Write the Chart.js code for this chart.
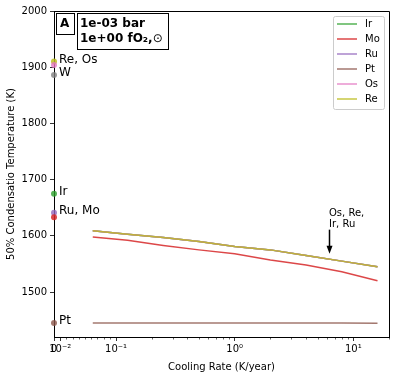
<!DOCTYPE html>
<html>
<head>
<meta charset="utf-8">
<script src="https://cdn.jsdelivr.net/npm/chart.js@4.4.1/dist/chart.umd.min.js"></script>
<style>
  html, body { margin: 0; padding: 0; background: #fff; }
  canvas { display: block; }
</style>
</head>
<body>
<canvas id="chart" width="399" height="379"></canvas>
<script>
// cooling rates (K/year) and 50% condensation temperatures (K)
const rates = [0.0625, 0.125, 0.25, 0.5, 1, 2, 4, 8, 16];
const irTemps = [1609, 1603, 1597, 1590, 1581, 1575, 1565, 1555, 1545];
const moTemps = [1598, 1592, 1583, 1575, 1568, 1557, 1548, 1536, 1520];
const ruTemps = [1609, 1603, 1597, 1590, 1581, 1575, 1565, 1555, 1545];
const ptTemps = [1445, 1445, 1445, 1445, 1445, 1445, 1445, 1444.7, 1444.5];
const osTemps = [1609, 1603, 1597, 1590, 1581, 1575, 1565, 1555, 1545];
const reTemps = [1609, 1603, 1597, 1590, 1581, 1575, 1565, 1555, 1545];

// equilibrium values plotted at rate 0
const eqElements = ['Re', 'Os', 'W', 'Ir', 'Ru', 'Mo', 'Pt'];
const eqTemps = [1910, 1904, 1886, 1675, 1641, 1633, 1445];
const eqLabelText = ['Re, Os', 'W', 'Ir', 'Ru, Mo', 'Pt'];
const eqLabelAnchor = ['Re', 'W', 'Ir', 'Ru', 'Pt'];

const xMajorTicks = [0, 0.01, 0.1, 1, 10];
const xTickLabels = ['0', '10\u207B\u00B2', '10\u207B\u00B9', '10\u2070', '10\u00B9'];
const xMinorTicks = [0.02, 0.03, 0.04, 0.05, 0.06, 0.07, 0.08, 0.09,
  0.2, 0.3, 0.4, 0.5, 0.6, 0.7, 0.8, 0.9, 2, 3, 4, 5, 6, 7, 8, 9, 20];
const yTicks = [1500, 1600, 1700, 1800, 1900, 2000];

const lineNames = ['Ir', 'Mo', 'Ru', 'Pt', 'Os', 'Re'];
const lineTemps = [irTemps, moTemps, ruTemps, ptTemps, osTemps, reTemps];
const colors = {
  Ir: 'rgba(44,160,44,0.8)', Mo: 'rgba(214,39,40,0.85)', Ru: 'rgba(148,103,189,0.8)',
  Pt: 'rgba(140,86,75,0.8)', Os: 'rgba(227,119,194,0.8)', Re: 'rgba(188,189,34,0.85)',
  W: 'rgba(127,127,127,0.8)'
};

const arrowRate = 6.25, arrowFrom = 1611, arrowTo = 1568;

// symlog transform (linthresh 0.1)
const LINTHRESH = 0.1, LINSPAN = 0.523;
function tf(v) { return v <= LINTHRESH ? v / LINTHRESH * LINSPAN : LINSPAN + Math.log10(v / LINTHRESH); }
function itf(t) { return t <= LINSPAN ? t / LINSPAN * LINTHRESH : LINTHRESH * Math.pow(10, t - LINSPAN); }

class SymlogScale extends Chart.Scale {
  static id = 'symlog';
  static defaults = {};
  determineDataLimits() {
    this.min = this.options.min;
    this.max = this.options.max;
  }
  buildTicks() {
    return xMajorTicks.map(v => ({ value: v }));
  }
  configure() {
    super.configure();
    this._tmin = tf(this.min);
    this._trange = tf(this.max) - this._tmin;
  }
  getLabelForValue(v) { return String(v); }
  getPixelForValue(v) { return this.getPixelForDecimal((tf(v) - this._tmin) / this._trange); }
  getValueForPixel(p) { return itf(this._tmin + this.getDecimalForPixel(p) * this._trange); }
}
Chart.register(SymlogScale);

Chart.defaults.font.family = 'DejaVu Sans';
Chart.defaults.font.size = 10;
Chart.defaults.color = '#000';

const datasets = [];
lineNames.forEach((name, i) => {
  datasets.push({
    label: name,
    data: rates.map((r, j) => ({ x: r, y: lineTemps[i][j] })),
    borderColor: colors[name],
    borderWidth: 1.5,
    pointRadius: 0,
    fill: false,
    tension: 0,
    order: 20 - i
  });
});
eqElements.forEach((name, i) => {
  datasets.push({
    label: name + ' eq',
    data: [{ x: 0, y: eqTemps[i] }],
    showLine: false,
    pointRadius: 3,
    pointBorderWidth: 0,
    pointBackgroundColor: colors[name],
    borderColor: colors[name],
    clip: false,
    order: 10 - i
  });
});

function drawBox(ctx, x, y, w, h) {
  ctx.fillStyle = '#fff';
  ctx.fillRect(x, y, w, h);
  ctx.strokeStyle = '#000';
  ctx.lineWidth = 1;
  ctx.strokeRect(x + 0.5, y + 0.5, w, h);
}

const decorations = {
  id: 'decorations',
  afterDraw(chart) {
    const ctx = chart.ctx;
    const xs = chart.scales.x, ys = chart.scales.y;
    const area = chart.chartArea;
    ctx.save();

    // top and right spines
    ctx.strokeStyle = '#000';
    ctx.lineWidth = 1;
    ctx.beginPath();
    ctx.moveTo(area.left, area.top + 0.5);
    ctx.lineTo(area.right + 0.5, area.top + 0.5);
    ctx.lineTo(area.right + 0.5, area.bottom);
    ctx.stroke();

    // minor x ticks
    ctx.lineWidth = 0.6;
    ctx.beginPath();
    xMinorTicks.forEach(v => {
      const px = Math.round(xs.getPixelForValue(v)) + 0.5;
      ctx.moveTo(px, area.bottom);
      ctx.lineTo(px, area.bottom + 2.5);
    });
    ctx.stroke();

    // labels next to the equilibrium points
    ctx.fillStyle = '#000';
    ctx.font = '12px "DejaVu Sans"';
    ctx.textAlign = 'left';
    ctx.textBaseline = 'middle';
    eqLabelText.forEach((txt, i) => {
      const v = eqTemps[eqElements.indexOf(eqLabelAnchor[i])];
      ctx.fillText(txt, xs.getPixelForValue(0) + 5, ys.getPixelForValue(v) - 2);
    });

    // arrow annotation
    ctx.font = '10px "DejaVu Sans"';
    const ax = Math.round(xs.getPixelForValue(arrowRate)) + 0.5;
    const ay0 = ys.getPixelForValue(arrowFrom);
    const ay1 = ys.getPixelForValue(arrowTo);
    ctx.lineWidth = 1.5;
    ctx.beginPath();
    ctx.moveTo(ax, ay0);
    ctx.lineTo(ax, ay1 - 7);
    ctx.stroke();
    ctx.beginPath();
    ctx.moveTo(ax - 3, ay1 - 8);
    ctx.lineTo(ax + 3, ay1 - 8);
    ctx.lineTo(ax, ay1);
    ctx.closePath();
    ctx.fill();
    ctx.textBaseline = 'alphabetic';
    ctx.fillText('Os, Re,', ax - 0.5, ay0 - 14);
    ctx.fillText('Ir, Ru', ax - 0.5, ay0 - 3);

    // panel boxes
    drawBox(ctx, 56, 13, 18, 21);
    drawBox(ctx, 77, 13, 91, 36);
    ctx.fillStyle = '#000';
    ctx.font = 'bold 12px "DejaVu Sans"';
    ctx.textBaseline = 'middle';
    ctx.fillText('A', 60, 24);
    ctx.fillText('1e-03 bar', 80, 24);
    ctx.fillText('1e+00 fO\u2082,', 80, 39);
    const w = ctx.measureText('1e+00 fO\u2082,').width;
    ctx.font = '12px "DejaVu Sans"';
    ctx.fillText('\u2299', 80 + w, 39);

    // legend
    ctx.fillStyle = 'rgba(255,255,255,0.8)';
    ctx.strokeStyle = '#cccccc';
    ctx.lineWidth = 1;
    ctx.beginPath();
    ctx.roundRect(333.5, 16.5, 51, 93, 2);
    ctx.fill();
    ctx.stroke();
    ctx.font = '10px "DejaVu Sans"';
    lineNames.forEach((name, i) => {
      const y = 24 + i * 15;
      ctx.strokeStyle = colors[name];
      ctx.lineWidth = 1.5;
      ctx.beginPath();
      ctx.moveTo(337, y);
      ctx.lineTo(357, y);
      ctx.stroke();
      ctx.fillStyle = '#000';
      ctx.fillText(name, 365, y);
    });
    ctx.restore();
  }
};

new Chart(document.getElementById('chart'), {
  type: 'line',
  data: { datasets },
  options: {
    responsive: false,
    animation: false,
    devicePixelRatio: 1,
    layout: { padding: { top: 11, right: 10, left: 0, bottom: 0 } },
    plugins: { legend: { display: false }, tooltip: { enabled: false } },
    scales: {
      x: {
        type: 'symlog',
        min: 0,
        max: 20,
        afterFit(scale) { scale.height = 42; },
        grid: { drawOnChartArea: false, drawTicks: true, tickLength: 4, tickColor: '#000', tickWidth: 0.8 },
        border: { display: true, color: '#000', width: 1 },
        ticks: {
          autoSkip: false, maxRotation: 0, padding: 2, color: '#000',
          callback: (v, i) => xTickLabels[i]
        },
        title: { display: true, text: 'Cooling Rate (K/year)', padding: { top: 4, bottom: 6 } }
      },
      y: {
        type: 'linear',
        min: 1420,
        max: 2000,
        afterFit(scale) { scale.width = 54; },
        afterBuildTicks(scale) { scale.ticks = yTicks.map(v => ({ value: v })); },
        grid: { drawOnChartArea: false, drawTicks: true, tickLength: 4, tickColor: '#000', tickWidth: 0.8 },
        border: { display: true, color: '#000', width: 1 },
        ticks: { padding: 3, color: '#000', callback: v => String(v) },
        title: { display: true, text: '50% Condensatio Temperature (K)', padding: { top: 5, bottom: 0 } }
      }
    }
  },
  plugins: [decorations]
});
</script>
</body>
</html>
